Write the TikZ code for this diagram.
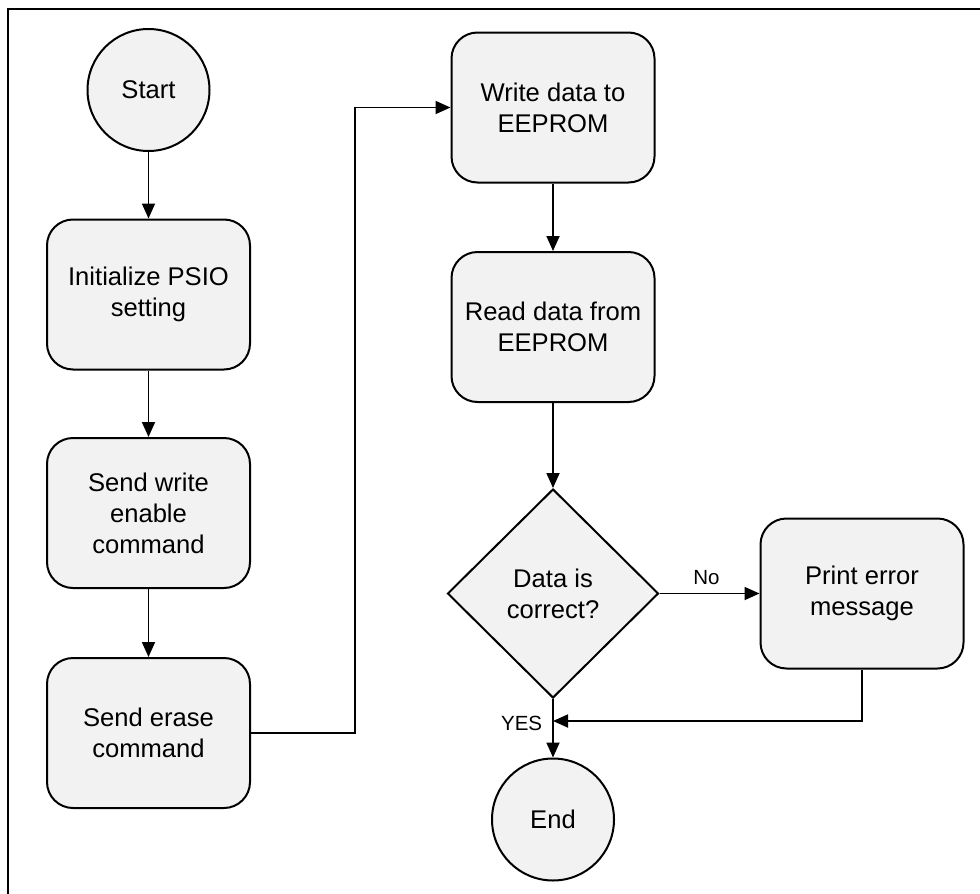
\documentclass[tikz,border=0pt]{standalone}
\usepackage{fontspec}
\setmainfont{Liberation Sans}
\usetikzlibrary{shapes.geometric,arrows.meta}
\definecolor{boxfill}{RGB}{242,242,242}
\begin{document}
\begin{tikzpicture}[x=1pt,y=-1pt,
  base/.style={draw=black, line width=2pt, fill=boxfill, inner sep=0pt, align=center, font=\fontsize{25.6}{31}\selectfont},
  proc/.style={base, rectangle, rounded corners=26pt, minimum width=203pt, minimum height=150pt},
  term/.style={base, circle, minimum size=122pt},
  decision/.style={base, diamond, minimum width=211pt, minimum height=209pt},
  arr/.style={line width=1.8pt, -{Triangle[length=15pt,width=13pt]}},
  lbl/.style={font=\fontsize{20.5}{24}\selectfont, inner sep=0pt},
  frame/.style={line width=2.4pt}
]
\useasboundingbox (0,0) rectangle (980,894);
\draw[frame] (8,894) -- (8,9) -- (980,9);

\node[term] (start) at (148.5,90) {Start};
\node[proc] (init) at (148.5,294.5) {Initialize PSIO\\setting};
\node[proc] (sendwe) at (148.5,513) {Send write\\enable\\command};
\node[proc] (erase) at (148.5,733) {Send erase\\command};
\node[proc] (write) at (553,107.5) {Write data to\\EEPROM};
\node[proc] (read) at (553,327) {Read data from\\EEPROM};
\node[decision] (dec) at (553,593.5) {Data is\\correct?};
\node[proc] (err) at (862,593.5) {Print error\\message};
\node[term] (end) at (553,819.5) {End};

\coordinate (bend) at (355,420);
\coordinate (join) at (553,721);

\draw[arr] (start) -- (init);
\draw[arr] (init) -- (sendwe);
\draw[arr] (sendwe) -- (erase);
\draw[arr] (erase.east) -| (bend) |- (write.west);
\draw[arr] (write) -- (read);
\draw[arr] (read) -- (dec.north);
\draw[arr] (dec.east) -- (err.west) node[lbl, pos=0.47, yshift=16pt] {No};
\draw[arr] (dec.south) -- (end.north) node[lbl, pos=0.41, left=10pt] {YES};
\draw[arr] (err.south) |- (join);
\end{tikzpicture}
\end{document}
